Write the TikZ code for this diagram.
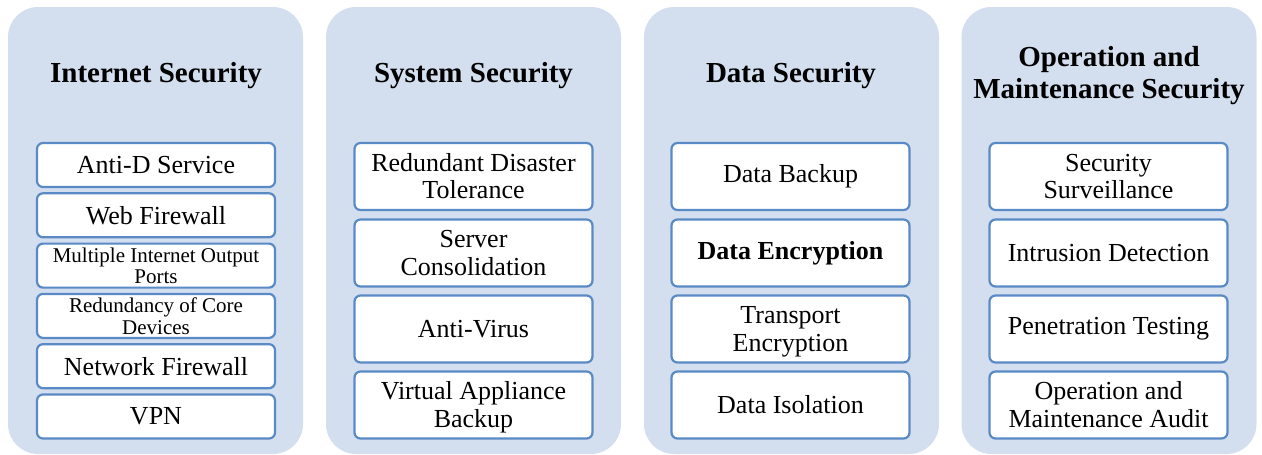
\documentclass[tikz,border=0pt]{standalone}
\usepackage{fontspec}
\setmainfont{Liberation Serif}
\newfontfamily\libs{Liberation Serif}
\definecolor{panelfill}{HTML}{D3DEEF}
\definecolor{boxline}{HTML}{5A8AC6}
\newcommand{\twolines}[2]{\raisebox{-3pt}[\height][\depth]{\begin{tabular}{@{}c@{}}#1\\#2\end{tabular}}}
\tikzset{
  panel/.style={rectangle, rounded corners=30pt, fill=panelfill, draw=none,
    minimum width=295pt, minimum height=447pt, inner sep=0pt},
  title/.style={align=center, font=\libs\fontsize{29}{32}\selectfont\bfseries, inner sep=0pt},
  item/.style={rectangle, rounded corners=6pt, fill=white, draw=boxline, line width=2.2pt,
    minimum width=238pt, inner sep=0pt},
  bigitem/.style={item, minimum height=67pt, font=\libs\fontsize{26}{27.5}\selectfont},
  smallitem/.style={item, minimum height=44pt, font=\libs\fontsize{26}{27.5}\selectfont},
  tinyitem/.style={item, minimum height=44pt, font=\libs\fontsize{21}{21.7}\selectfont},
}
\begin{document}
\begin{tikzpicture}[x=1pt,y=-1pt]
\useasboundingbox (0,0) rectangle (1262,455);
% panels
\node[panel] (p1) at (155.5,230.5) {};
\node[panel] (p2) at (473.5,230.5) {};
\node[panel] (p3) at (791.5,230.5) {};
\node[panel] (p4) at (1109,230.5) {};
% titles
\node[title] (t1) at (156,76) {Internet Security};
\node[title] (t2) at (473.5,76) {System Security};
\node[title] (t3) at (791,76) {Data Security};
\node[title] (t4) at (1109,76) {Operation and\\Maintenance Security};
% panel 1 items
\node[smallitem] (a1) at (156,165) {Anti-D Service};
\node[smallitem] (a2) at (156,215.3) {Web Firewall};
\node[tinyitem] (a3) at (156,265.6) {\twolines{Multiple Internet Output}{Ports}};
\node[tinyitem] (a4) at (156,315.9) {\twolines{Redundancy of Core}{Devices}};
\node[smallitem] (a5) at (156,366.2) {Network Firewall};
\node[smallitem] (a6) at (156,416.5) {VPN};
% panel 2 items
\node[bigitem] (b1) at (473.5,176.5) {\twolines{Redundant Disaster}{Tolerance}};
\node[bigitem] (b2) at (473.5,253) {\twolines{Server}{Consolidation}};
\node[bigitem] (b3) at (473.5,329) {Anti-Virus};
\node[bigitem] (b4) at (473.5,405) {\twolines{Virtual Appliance}{Backup}};
% panel 3 items
\node[bigitem] (c1) at (790.5,176.5) {Data Backup};
\node[bigitem] (c2) at (790.5,253) {\bfseries Data Encryption};
\node[bigitem] (c3) at (790.5,329) {\twolines{Transport}{Encryption}};
\node[bigitem] (c4) at (790.5,405) {Data Isolation};
% panel 4 items
\node[bigitem] (d1) at (1108.5,176.5) {\twolines{Security}{Surveillance}};
\node[bigitem] (d2) at (1108.5,253) {Intrusion Detection};
\node[bigitem] (d3) at (1108.5,329) {Penetration Testing};
\node[bigitem] (d4) at (1108.5,405) {\twolines{Operation and}{Maintenance Audit}};
\end{tikzpicture}
\end{document}
